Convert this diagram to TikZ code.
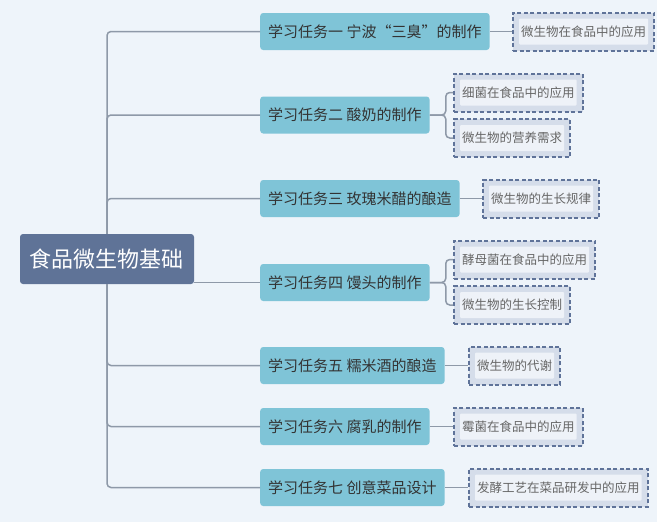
\documentclass[tikz,border=0pt]{standalone}
\usepackage{fontspec}
\newfontfamily\cjk{Noto Sans CJK SC}
\definecolor{bgcol}{HTML}{EEF4FA}
\definecolor{rootcol}{HTML}{5F7397}
\definecolor{taskcol}{HTML}{7FC4D7}
\definecolor{leafout}{HTML}{D5DDEA}
\definecolor{leafin}{HTML}{EEF2F8}
\definecolor{dashcol}{HTML}{5F7399}
\definecolor{linecol}{HTML}{8E99A8}

\begin{document}
\begin{tikzpicture}[x=1pt,y=-1pt,
	rootbox/.style={fill=rootcol,rounded corners=3pt,text=white,minimum width=174pt,minimum height=50pt,font=\cjk\fontsize{22}{26}\selectfont},
	taskbox/.style={fill=taskcol,rounded corners=3pt,text=black!80,anchor=west,inner xsep=8pt,minimum height=37pt,font=\cjk\fontsize{15}{18}\selectfont},
	leafbox/.style={fill=leafout,draw=dashcol,line width=2pt,dash pattern=on 4pt off 2.5pt,anchor=west,inner xsep=8pt,minimum height=38pt,text=black!60,font=\cjk\fontsize{12.5}{15}\selectfont,
		path picture={\fill[leafin,rounded corners=1pt] ([shift={(6pt,-6pt)}]path picture bounding box.north west) rectangle ([shift={(-6pt,6pt)}]path picture bounding box.south east);}},
	conn/.style={draw=linecol,line width=1.5pt,rounded corners=4pt}]
	\fill[bgcol] (0,0) rectangle (657,522);
	\useasboundingbox (0,0) rectangle (657,522);
	% root and tasks
	\node[rootbox] (root) at (107,259) {食品微生物基础};
	\node[taskbox] (t1) at (260,31.5) {学习任务一 宁波“三臭”的制作};
	\node[taskbox] (t2) at (260,115) {学习任务二 酸奶的制作};
	\node[taskbox] (t3) at (260,198.5) {学习任务三 玫瑰米醋的酿造};
	\node[taskbox] (t4) at (260,282.5) {学习任务四 馒头的制作};
	\node[taskbox] (t5) at (260,365.5) {学习任务五 糯米酒的酿造};
	\node[taskbox] (t6) at (260,426.5) {学习任务六 腐乳的制作};
	\node[taskbox] (t7) at (260,487.5) {学习任务七 创意菜品设计};
	% leaves
	\node[leafbox] (l1) at (512,31.5) {微生物在食品中的应用};
	\node[leafbox] (l2a) at (453,92.5) {细菌在食品中的应用};
	\node[leafbox] (l2b) at (453,138) {微生物的营养需求};
	\node[leafbox] (l3) at (482,198.5) {微生物的生长规律};
	\node[leafbox] (l4a) at (453,259.5) {酵母菌在食品中的应用};
	\node[leafbox] (l4b) at (453,305) {微生物的生长控制};
	\node[leafbox] (l5) at (468,365.5) {微生物的代谢};
	\node[leafbox] (l6) at (453,426.5) {霉菌在食品中的应用};
	\node[leafbox] (l7) at (468,487.5) {发酵工艺在菜品研发中的应用};
	% trunk
	\foreach \t in {t1,t2,t3} \draw[conn] (root.north) |- (\t.west);
	\foreach \t in {t5,t6,t7} \draw[conn] (root.south) |- (\t.west);
	\draw[conn] (root.east |- t4.west) -- (t4.west);
	% task to leaf
	\draw[conn] (t1.east) -- (l1.west);
	\draw[conn] (t3.east) -- (l3.west);
	\draw[conn] (t5.east) -- (l5.west);
	\draw[conn] (t6.east) -- (l6.west);
	\draw[conn] (t7.east) -- (l7.west);
	\draw[conn] (t2.east) -- ++(16,0) |- (l2a.west);
	\draw[conn] (t2.east) -- ++(16,0) |- (l2b.west);
	\draw[conn] (t4.east) -- ++(16,0) |- (l4a.west);
	\draw[conn] (t4.east) -- ++(16,0) |- (l4b.west);
\end{tikzpicture}
\end{document}
